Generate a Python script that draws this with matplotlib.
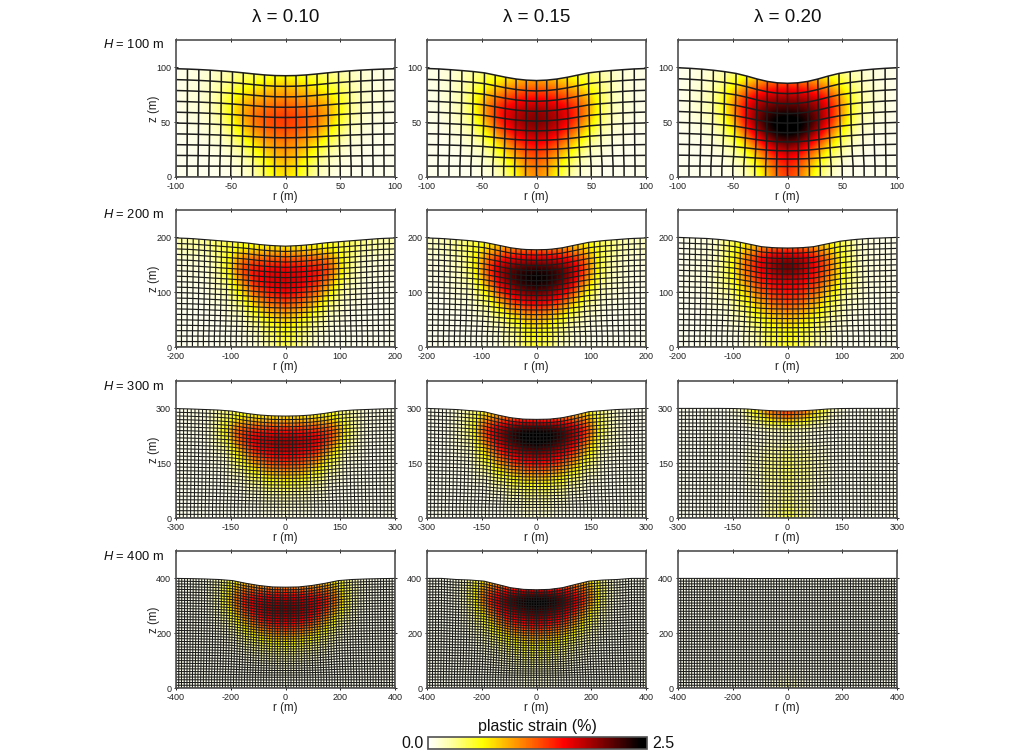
import numpy as np
import matplotlib
matplotlib.use('Agg')
import matplotlib.pyplot as plt
from matplotlib.cm import ScalarMappable
from matplotlib.colors import LinearSegmentedColormap, Normalize
from matplotlib.patches import Polygon

plt.rcParams['font.family'] = ['Liberation Sans', 'DejaVu Sans']
plt.rcParams['mathtext.fontset'] = 'custom'
plt.rcParams['mathtext.it'] = 'Liberation Sans:italic'
plt.rcParams['mathtext.rm'] = 'Liberation Sans'
plt.rcParams['axes.unicode_minus'] = False

# Layout of the panels
friction = ['0.10', '0.15', '0.20']
depths = [100, 200, 300, 400]
x_ticks = [[-100, -50, 0, 50, 100], [-200, -100, 0, 100, 200],
           [-300, -150, 0, 150, 300], [-400, -200, 0, 200, 400]]
y_ticks = [[0, 50, 100], [0, 100, 200], [0, 150, 300], [0, 200, 400]]

# Positions along the tables, as a fraction of H
r_frac = [0, 0.125, 0.25, 0.375, 0.5, 0.625, 0.75, 0.875, 1.0]
z_frac = [0, 0.1, 0.2, 0.3, 0.4, 0.5, 0.6, 0.7, 0.8, 0.9, 1.0]

# Height of the ground surface (fraction of H) at each r_frac
surface_h100_l010 = [.924, .926, .935, .948, .960, .970, .978, .984, .988]
surface_h100_l015 = [.880, .885, .900, .925, .950, .965, .975, .985, .990]
surface_h100_l020 = [.855, .860, .880, .915, .945, .965, .980, .990, .997]
surface_h200_l010 = [.920, .925, .935, .950, .960, .970, .980, .990, .995]
surface_h200_l015 = [.887, .890, .905, .930, .955, .970, .980, .990, .995]
surface_h200_l020 = [.903, .905, .915, .940, .965, .980, .990, .995, 1.00]
surface_h300_l010 = [.930, .932, .940, .955, .975, .985, .990, .995, .998]
surface_h300_l015 = [.900, .902, .915, .940, .970, .980, .990, .995, 1.00]
surface_h300_l020 = [.976, .978, .985, .995, .999, 1.00, 1.00, 1.00, 1.00]
surface_h400_l010 = [.920, .922, .935, .955, .980, .990, .995, .998, 1.00]
surface_h400_l015 = [.896, .900, .915, .945, .975, .985, .990, 1.00, 1.00]
surface_h400_l020 = [.999, .999, .999, .999, 1.00, 1.00, 1.00, 1.00, 1.00]

# How far the settlement reaches down, and the pull towards the axis
settle_depth = [0, .03, .25, .42, .55, .66, .75, .84, .91, .96, 1.0]
inward_shape = [0, .010, .020, .027, .030, .027, .020, .011, 0]

# Plastic strain (%), rows run from z = H down to z = 0, columns follow r_frac
strain_h100_l010 = [
    [.50, .45, .40, .30, .25, .15, .10, .08, .06],
    [.65, .60, .50, .40, .30, .18, .12, .08, .06],
    [.90, .85, .75, .60, .45, .22, .14, .10, .06],
    [1.10, 1.05, .95, .85, .60, .25, .14, .10, .06],
    [1.30, 1.25, 1.15, 1.00, .65, .25, .14, .10, .06],
    [1.38, 1.32, 1.20, .95, .55, .20, .12, .08, .05],
    [1.25, 1.20, 1.05, .75, .36, .14, .10, .07, .05],
    [1.10, 1.00, .80, .50, .22, .10, .08, .06, .05],
    [1.00, .85, .58, .26, .12, .08, .06, .05, .05],
    [.85, .70, .36, .15, .08, .06, .05, .05, .05],
    [.75, .60, .26, .10, .06, .05, .05, .05, .05]]
strain_h100_l015 = [
    [.70, .65, .55, .45, .30, .20, .12, .08, .06],
    [.90, .85, .70, .55, .40, .25, .14, .10, .06],
    [1.25, 1.20, 1.05, .85, .60, .30, .16, .10, .06],
    [1.60, 1.55, 1.40, 1.20, .85, .32, .16, .10, .06],
    [1.95, 1.85, 1.70, 1.40, .90, .32, .16, .10, .06],
    [2.05, 1.95, 1.70, 1.30, .75, .26, .14, .08, .05],
    [1.90, 1.75, 1.45, 1.00, .48, .18, .10, .07, .05],
    [1.60, 1.45, 1.10, .65, .26, .12, .08, .05, .05],
    [1.35, 1.15, .80, .36, .14, .08, .05, .05, .05],
    [1.20, .95, .52, .20, .09, .05, .05, .05, .05],
    [1.10, .85, .36, .13, .06, .05, .05, .05, .05]]
strain_h100_l020 = [
    [.80, .75, .60, .45, .30, .18, .10, .07, .06],
    [1.10, 1.00, .85, .60, .40, .22, .12, .08, .06],
    [1.55, 1.50, 1.35, 1.10, .70, .32, .16, .10, .06],
    [1.95, 1.90, 1.80, 1.50, .95, .38, .18, .10, .06],
    [2.30, 2.25, 2.05, 1.65, 1.00, .38, .18, .10, .06],
    [2.60, 2.50, 2.20, 1.60, .85, .30, .14, .08, .05],
    [2.55, 2.40, 1.90, 1.25, .58, .20, .10, .07, .05],
    [2.10, 1.90, 1.40, .85, .34, .13, .08, .05, .05],
    [1.70, 1.45, 1.00, .48, .18, .08, .05, .05, .05],
    [1.50, 1.20, .70, .26, .10, .05, .05, .05, .05],
    [1.40, 1.10, .52, .16, .06, .05, .05, .05, .05]]
strain_h200_l010 = [
    [.50, .50, .50, .45, .45, .38, .30, .25, .22],
    [.70, .70, .65, .60, .50, .40, .30, .25, .20],
    [1.25, 1.25, 1.20, 1.20, .70, .24, .14, .12, .10],
    [1.65, 1.60, 1.55, 1.45, .80, .20, .12, .10, .08],
    [1.75, 1.65, 1.55, 1.20, .52, .16, .10, .08, .06],
    [1.65, 1.50, 1.30, .85, .32, .12, .08, .06, .05],
    [1.30, 1.20, .95, .52, .18, .10, .06, .05, .05],
    [.95, .85, .62, .26, .12, .06, .05, .05, .05],
    [.70, .58, .32, .14, .07, .05, .05, .05, .05],
    [.60, .40, .18, .08, .05, .05, .05, .05, .05],
    [.50, .28, .10, .06, .05, .05, .05, .05, .05]]
strain_h200_l015 = [
    [.70, .70, .70, .60, .50, .36, .26, .20, .16],
    [1.05, 1.05, 1.00, .85, .65, .42, .30, .22, .16],
    [1.75, 1.70, 1.60, 1.40, .95, .32, .18, .12, .10],
    [2.35, 2.30, 2.15, 1.70, 1.00, .30, .15, .12, .08],
    [2.50, 2.40, 2.10, 1.50, .75, .22, .12, .10, .06],
    [2.15, 2.00, 1.70, 1.10, .46, .16, .10, .08, .05],
    [1.65, 1.50, 1.20, .66, .24, .12, .08, .05, .05],
    [1.10, 1.00, .72, .34, .14, .07, .05, .05, .05],
    [.80, .62, .36, .17, .08, .05, .05, .05, .05],
    [.65, .46, .22, .10, .05, .05, .05, .05, .05],
    [.55, .36, .14, .07, .05, .05, .05, .05, .05]]
strain_h200_l020 = [
    [.80, .80, .70, .60, .45, .18, .08, .06, .06],
    [1.20, 1.15, 1.00, .75, .50, .20, .10, .07, .06],
    [2.00, 1.90, 1.60, 1.15, .60, .20, .12, .07, .06],
    [2.20, 1.90, 1.55, 1.20, .60, .22, .12, .08, .06],
    [1.70, 1.60, 1.45, 1.05, .55, .22, .12, .08, .06],
    [1.55, 1.45, 1.20, .80, .38, .16, .10, .06, .05],
    [1.35, 1.20, .90, .58, .24, .12, .08, .05, .05],
    [1.00, .90, .70, .38, .16, .08, .06, .05, .05],
    [.75, .65, .46, .22, .10, .06, .05, .05, .05],
    [.60, .52, .32, .13, .06, .05, .05, .05, .05],
    [.55, .45, .24, .09, .05, .05, .05, .05, .05]]
strain_h300_l010 = [
    [.55, .55, .55, .50, .40, .18, .10, .06, .05],
    [.75, .75, .70, .70, .55, .20, .12, .08, .06],
    [1.45, 1.45, 1.40, 1.40, 1.10, .20, .10, .06, .05],
    [2.00, 1.90, 1.75, 1.50, .78, .14, .08, .05, .05],
    [1.75, 1.65, 1.50, 1.05, .38, .10, .06, .05, .05],
    [1.40, 1.30, 1.05, .62, .20, .07, .05, .05, .05],
    [.90, .85, .62, .32, .10, .06, .05, .05, .05],
    [.55, .48, .32, .14, .07, .05, .05, .05, .05],
    [.26, .22, .14, .07, .05, .05, .05, .05, .05],
    [.14, .12, .08, .05, .05, .05, .05, .05, .05],
    [.10, .08, .06, .05, .05, .05, .05, .05, .05]]
strain_h300_l015 = [
    [.80, .80, .75, .65, .50, .20, .10, .06, .05],
    [1.20, 1.20, 1.15, 1.05, .90, .26, .12, .08, .06],
    [2.50, 2.45, 2.25, 1.80, 1.25, .24, .12, .06, .05],
    [2.60, 2.50, 2.15, 1.65, .88, .18, .10, .06, .05],
    [2.10, 1.95, 1.70, 1.25, .56, .14, .08, .05, .05],
    [1.60, 1.50, 1.25, .82, .32, .10, .06, .05, .05],
    [1.05, .95, .75, .44, .15, .07, .05, .05, .05],
    [.60, .55, .40, .20, .09, .05, .05, .05, .05],
    [.32, .28, .18, .09, .05, .05, .05, .05, .05],
    [.20, .16, .08, .05, .05, .05, .05, .05, .05],
    [.16, .10, .06, .05, .05, .05, .05, .05, .05]]
strain_h300_l020 = [
    [1.50, 1.35, .95, .40, .05, .05, .05, .05, .05],
    [1.10, .95, .55, .15, .05, .05, .05, .05, .05],
    [.12, .10, .07, .05, .05, .05, .05, .05, .05],
    [.18, .15, .10, .05, .05, .05, .05, .05, .05],
    [.35, .30, .20, .08, .05, .05, .05, .05, .05],
    [.42, .35, .25, .10, .05, .05, .05, .05, .05],
    [.42, .35, .22, .08, .05, .05, .05, .05, .05],
    [.35, .30, .18, .06, .05, .05, .05, .05, .05],
    [.32, .25, .12, .05, .05, .05, .05, .05, .05],
    [.40, .30, .12, .05, .05, .05, .05, .05, .05],
    [.55, .38, .12, .05, .05, .05, .05, .05, .05]]
strain_h400_l010 = [
    [.70, .70, .65, .60, .45, .15, .06, .05, .05],
    [1.10, 1.05, 1.05, 1.10, .70, .20, .08, .05, .05],
    [1.90, 1.85, 1.75, 1.60, .95, .16, .06, .05, .05],
    [2.10, 2.00, 1.75, 1.35, .62, .12, .05, .05, .05],
    [1.75, 1.60, 1.35, .85, .30, .08, .05, .05, .05],
    [1.10, 1.00, .80, .46, .14, .06, .05, .05, .05],
    [.60, .55, .40, .20, .08, .05, .05, .05, .05],
    [.30, .26, .16, .08, .05, .05, .05, .05, .05],
    [.12, .10, .07, .05, .05, .05, .05, .05, .05],
    [.07, .06, .05, .05, .05, .05, .05, .05, .05],
    [.05, .05, .05, .05, .05, .05, .05, .05, .05]]
strain_h400_l015 = [
    [.90, .90, .85, .75, .55, .16, .06, .05, .05],
    [1.40, 1.40, 1.30, 1.20, 1.00, .26, .08, .05, .05],
    [2.70, 2.60, 2.35, 1.80, 1.10, .22, .06, .05, .05],
    [2.30, 2.15, 1.85, 1.35, .68, .14, .05, .05, .05],
    [1.80, 1.65, 1.40, .92, .38, .10, .05, .05, .05],
    [1.15, 1.05, .85, .52, .20, .07, .05, .05, .05],
    [.70, .65, .48, .26, .10, .05, .05, .05, .05],
    [.45, .38, .24, .12, .06, .05, .05, .05, .05],
    [.26, .20, .12, .07, .05, .05, .05, .05, .05],
    [.15, .10, .07, .05, .05, .05, .05, .05, .05],
    [.12, .08, .05, .05, .05, .05, .05, .05, .05]]
strain_h400_l020 = [
    [.05, .05, .05, .05, .05, .05, .05, .05, .05],
    [.05, .05, .05, .05, .05, .05, .05, .05, .05],
    [.05, .05, .05, .05, .05, .05, .05, .05, .05],
    [.05, .05, .05, .05, .05, .05, .05, .05, .05],
    [.05, .05, .05, .05, .05, .05, .05, .05, .05],
    [.05, .05, .05, .05, .05, .05, .05, .05, .05],
    [.05, .05, .05, .05, .05, .05, .05, .05, .05],
    [.05, .05, .05, .05, .05, .05, .05, .05, .05],
    [.06, .05, .05, .05, .05, .05, .05, .05, .05],
    [.10, .08, .05, .05, .05, .05, .05, .05, .05],
    [.30, .12, .05, .05, .05, .05, .05, .05, .05]]

surfaces = [[surface_h100_l010, surface_h100_l015, surface_h100_l020],
            [surface_h200_l010, surface_h200_l015, surface_h200_l020],
            [surface_h300_l010, surface_h300_l015, surface_h300_l020],
            [surface_h400_l010, surface_h400_l015, surface_h400_l020]]
strains = [[strain_h100_l010, strain_h100_l015, strain_h100_l020],
           [strain_h200_l010, strain_h200_l015, strain_h200_l020],
           [strain_h300_l010, strain_h300_l015, strain_h300_l020],
           [strain_h400_l010, strain_h400_l015, strain_h400_l020]]

# Colour scale, same as the bar at the bottom
strain_cmap = LinearSegmentedColormap.from_list(
    'strain', [(0, '#ffffff'), (0.1, '#ffffa8'), (0.25, '#ffff00'), (0.62, '#ff0000'), (0.97, '#000000'), (1, '#000000')])
strain_norm = Normalize(0.0, 2.5)

frame_color = '#505050'
mesh_color = '#1c1c1c'
text_color = '#222222'
fig_w, fig_h = 1024, 756
col_left = [176, 427, 678]
row_top = [40, 210, 381, 551]
ax_w, ax_h = 219, 137
mesh_widths = [1.1, 0.85, 0.75, 0.75]


def add_axes_px(fig, left, top, width, height):
    return fig.add_axes([left / fig_w, 1 - (top + height) / fig_h, width / fig_w, height / fig_h])


def draw_panel(ax, depth, surface, strain, xticks, yticks, lw):
    # Mirror the half tables around the axis
    table = np.array(strain)
    table = np.hstack([table[:, :0:-1], table])
    dr = 0.125 * depth
    dz = 0.1 * depth
    image = ax.imshow(table, cmap=strain_cmap, norm=strain_norm, aspect='auto',
                      interpolation='bicubic', interpolation_stage='data',
                      extent=[-depth - dr / 2, depth + dr / 2, -dz / 2, depth + dz / 2])

    # Mesh nodes displaced by the settlement read from the surface
    n_cols = depth // 5
    n_rows = depth // 10
    r0 = np.linspace(-depth, depth, n_cols + 1)
    z0 = np.linspace(0, depth, n_rows + 1)
    rr, zz = np.meshgrid(r0, z0)
    settle = (1 - np.interp(np.abs(rr) / depth, r_frac, surface)) * depth
    reach = np.interp(zz / depth, z_frac, settle_depth)
    pull = (1 - surface[0]) / 0.145
    inward = np.interp(np.abs(rr) / depth, r_frac, inward_shape) * depth * pull
    node_r = rr - np.sign(rr) * inward * reach
    node_z = zz - settle * reach

    ax.plot(node_r, node_z, color=mesh_color, lw=lw, solid_capstyle='butt', snap=False)
    ax.plot(node_r.T, node_z.T, color=mesh_color, lw=lw, solid_capstyle='butt', snap=False)

    # Only the ground below the surface carries colour
    outline = np.column_stack([np.r_[node_r[-1], depth, -depth], np.r_[node_z[-1], 0, 0]])
    image.set_clip_path(Polygon(outline, transform=ax.transData))

    ax.set_xlim(-depth, depth)
    ax.set_ylim(0, 1.25 * depth)
    ax.set_xticks(xticks)
    ax.set_yticks(yticks)
    ax.tick_params(axis='both', direction='inout', length=3, width=0.7, pad=2,
                   labelsize=6.5, colors=text_color, top=True, right=True)
    ax.set_xlabel('r (m)', fontsize=8.3, color=text_color, labelpad=0)
    for spine in ax.spines.values():
        spine.set_color(frame_color)
        spine.set_linewidth(1.2)


fig = plt.figure(figsize=(fig_w / 100, fig_h / 100), dpi=100)

for i, depth in enumerate(depths):
    for j in range(len(friction)):
        ax = add_axes_px(fig, col_left[j], row_top[i], ax_w, ax_h)
        draw_panel(ax, depth, surfaces[i][j], strains[i][j], x_ticks[i], y_ticks[i], mesh_widths[i])
        if j == 0:
            ax.set_ylabel('z (m)', fontsize=8.3, color=text_color, labelpad=-3)
    fig.text(103 / fig_w, 1 - (row_top[i] + 5) / fig_h, r'$\mathit{H}$ = %d m' % depth,
             fontsize=9.3, color='#111111', ha='left', va='center')

for j, value in enumerate(friction):
    fig.text((col_left[j] + ax_w / 2) / fig_w, 1 - 17 / fig_h, '\u03bb = %s' % value,
             fontsize=13.5, color='#111111', ha='center', va='center')

# Colour bar
cax = add_axes_px(fig, 428, 737, 219, 12)
bar = fig.colorbar(ScalarMappable(norm=strain_norm, cmap=strain_cmap), cax=cax, orientation='horizontal')
bar.set_ticks([])
bar.outline.set_edgecolor(frame_color)
bar.outline.set_linewidth(1.2)
fig.text(537 / fig_w, 1 - 727 / fig_h, 'plastic strain (%)', fontsize=11.5, color='#111111', ha='center', va='center')
fig.text(424 / fig_w, 1 - 743 / fig_h, '0.0', fontsize=11.5, color='#111111', ha='right', va='center')
fig.text(652 / fig_w, 1 - 743 / fig_h, '2.5', fontsize=11.5, color='#111111', ha='left', va='center')

fig.savefig('out.png', dpi=100)
